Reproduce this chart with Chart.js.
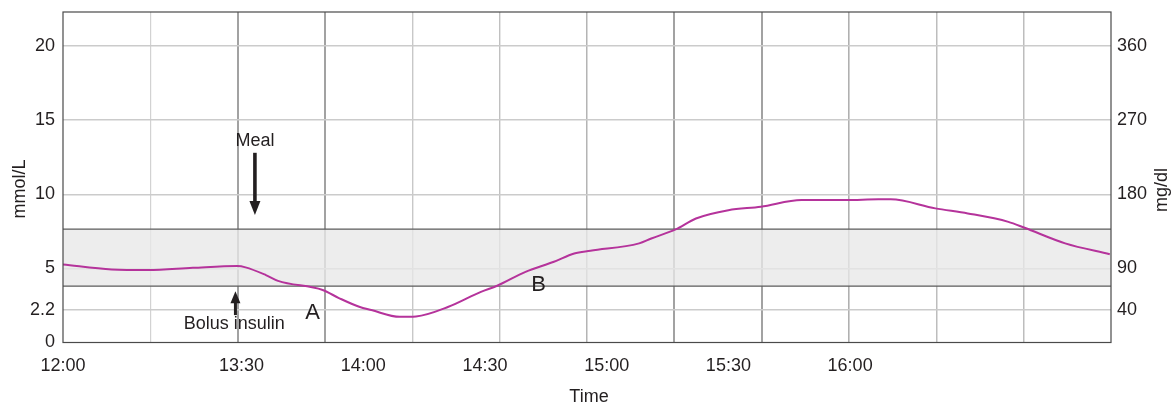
<!DOCTYPE html>
<html>
<head>
<meta charset="utf-8">
<script src="https://cdn.jsdelivr.net/npm/chart.js@4.4.1/dist/chart.umd.min.js"></script>
<style>
  html, body { margin: 0; padding: 0; background: #ffffff; }
  #wrap { width: 1175px; height: 408px; position: relative; }
</style>
</head>
<body>
<div id="wrap"><canvas id="c"></canvas></div>
<script>
// ---- data ----
// minutes after 12:00, glucose in mmol/L
const minutes = [46, 58, 67, 78, 89, 91, 96, 99, 110, 114, 119, 122, 129, 133, 141, 149, 153, 160, 167, 172, 176, 188, 191, 197, 202, 210, 218, 228, 239, 247, 250, 261, 269, 279, 283, 293, 304];
const glucose = [5.26, 4.93, 4.89, 5.04, 5.16, 5.07, 4.55, 4.16, 3.54, 3.0, 2.41, 2.19, 1.73, 1.76, 2.41, 3.42, 3.83, 4.77, 5.45, 6.01, 6.19, 6.69, 7.02, 7.63, 8.37, 8.93, 9.16, 9.61, 9.61, 9.66, 9.66, 9.05, 8.71, 8.14, 7.74, 6.69, 5.96];

const xMin = 46, xMax = 304.3;           // minutes shown on the time axis
const timeLabels = ['12:00', '13:30', '14:00', '14:30', '15:00', '15:30', '16:00'];
const timeLabelMinutes = [46, 90, 120, 150, 180, 210, 240]; // the source puts "12:00" at the axis start
const verticalGridCount = 12;

const mmolMax = 22.3;
const mmolTicks = [0, 2.2, 5, 10, 15, 20];
const mgdlTicks = [40, 90, 180, 270, 360];
const mgPerMmol = 18;

const targetLow = 3.8, targetHigh = 7.65; // shaded target range (mmol/L)

// annotations: [text, minute, mmol, font size]
const labelNotes = [
  ['Meal', 93.3, 13.59, 18],
  ['Bolus insulin', 88.2, 1.24, 18],
  ['A', 107.5, 1.98, 22],
  ['B', 163.2, 3.87, 22]
];
// arrows: [minute, fromMmol, toMmol(tip), shaft width, head width, head length]
const arrows = [
  [93.3, 12.8, 8.6, 3.6, 11, 14],
  [88.5, 1.85, 3.45, 3, 10, 12]
];

// ---- styles ----
const textColor = '#231f20';
const fontFamily = '"Liberation Sans", Arial, Helvetica, sans-serif';
const vGridStyles = [
  null,
  ['#d2d2d2', 1.2], ['#a2a2a2', 2], ['#a2a2a2', 2], ['#c8c8c8', 1.4], ['#c0c0c0', 1.4],
  ['#b4b4b4', 1.5], ['#a2a2a2', 2], ['#a2a2a2', 2], ['#b0b0b0', 1.6], ['#bdbdbd', 1.5], ['#bdbdbd', 1.5],
  null
];

const overlay = {
  id: 'overlay',
  beforeDatasetsDraw(chart) {
    const { ctx, chartArea: a, scales } = chart;
    const y = scales.y;
    const yTop = y.getPixelForValue(targetHigh), yBot = y.getPixelForValue(targetLow);
    ctx.save();
    ctx.fillStyle = 'rgba(232,232,232,0.78)';
    ctx.fillRect(a.left, yTop, a.right - a.left, yBot - yTop);
    ctx.strokeStyle = '#5c5c5c';
    ctx.lineWidth = 1.3;
    ctx.beginPath();
    ctx.moveTo(a.left, yTop); ctx.lineTo(a.right, yTop);
    ctx.moveTo(a.left, yBot); ctx.lineTo(a.right, yBot);
    ctx.stroke();
    ctx.restore();
  },
  afterDatasetsDraw(chart) {
    const { ctx, chartArea: a, scales } = chart;
    const x = scales.x, y = scales.y;
    ctx.save();
    // plot border
    ctx.strokeStyle = '#4a4a4a';
    ctx.lineWidth = 1.2;
    ctx.strokeRect(a.left, a.top, a.right - a.left, a.bottom - a.top);

    // arrows
    ctx.fillStyle = textColor;
    ctx.strokeStyle = textColor;
    arrows.forEach(([m, from, to, sw, hw, hl]) => {
      const px = x.getPixelForValue(m);
      const y0 = y.getPixelForValue(from), y1 = y.getPixelForValue(to);
      const dir = y1 > y0 ? 1 : -1;
      ctx.lineWidth = sw;
      ctx.beginPath();
      ctx.moveTo(px, y0);
      ctx.lineTo(px, y1 - dir * hl * 0.8);
      ctx.stroke();
      ctx.beginPath();
      ctx.moveTo(px, y1);
      ctx.lineTo(px - hw / 2, y1 - dir * hl);
      ctx.lineTo(px + hw / 2, y1 - dir * hl);
      ctx.closePath();
      ctx.fill();
    });

    // text notes
    ctx.textAlign = 'center';
    ctx.textBaseline = 'middle';
    labelNotes.forEach(([t, m, v, size]) => {
      ctx.font = size + 'px ' + fontFamily;
      ctx.fillText(t, x.getPixelForValue(m), y.getPixelForValue(v));
    });

    // axis titles
    ctx.font = '18px ' + fontFamily;
    ctx.fillText('Time', (a.left + a.right) / 2 + 2, 397);
    ctx.save();
    ctx.translate(20, 189);
    ctx.rotate(-Math.PI / 2);
    ctx.fillText('mmol/L', 0, 0);
    ctx.restore();
    ctx.save();
    ctx.translate(1162, 190);
    ctx.rotate(-Math.PI / 2);
    ctx.fillText('mg/dl', 0, 0);
    ctx.restore();
    ctx.restore();
  }
};

const tickFont = { family: fontFamily, size: 18 };

new Chart(document.getElementById('c'), {
  type: 'line',
  data: {
    datasets: [{
      data: minutes.map((m, i) => ({ x: m, y: glucose[i] })),
      borderColor: '#b5339b',
      borderWidth: 2,
      pointRadius: 0,
      cubicInterpolationMode: 'monotone',
      fill: false,
      xAxisID: 'x',
      yAxisID: 'y'
    }]
  },
  options: {
    responsive: true,
    maintainAspectRatio: false,
    animation: false,
    layout: { padding: { top: 12, left: 0, right: 0, bottom: 0 } },
    plugins: { legend: { display: false }, tooltip: { enabled: false } },
    scales: {
      xg: {
        type: 'linear', position: 'bottom', min: xMin, max: xMax,
        afterBuildTicks(s) {
          s.ticks = [];
          for (let i = 0; i <= verticalGridCount; i++) s.ticks.push({ value: xMin + (xMax - xMin) * i / verticalGridCount });
        },
        afterFit(s) { s.height = 0; s.paddingLeft = 0; s.paddingRight = 0; },
        ticks: { display: false },
        border: { display: false },
        grid: {
          drawTicks: false,
          color: c => (vGridStyles[c.index] ? vGridStyles[c.index][0] : 'rgba(0,0,0,0)'),
          lineWidth: c => (vGridStyles[c.index] ? vGridStyles[c.index][1] : 0)
        }
      },
      x: {
        type: 'linear', position: 'bottom', min: xMin, max: xMax,
        afterBuildTicks(s) { s.ticks = timeLabelMinutes.map(v => ({ value: v })); },
        afterFit(s) { s.height = 65.5; s.paddingLeft = 0; s.paddingRight = 0; },
        ticks: {
          font: tickFont, color: textColor, padding: 13, maxRotation: 0, autoSkip: false,
          callback: (v, i) => timeLabels[i]
        },
        border: { display: false },
        grid: { display: false, drawTicks: false }
      },
      y: {
        type: 'linear', position: 'left', min: 0, max: mmolMax,
        afterBuildTicks(s) { s.ticks = mmolTicks.map(v => ({ value: v })); },
        afterFit(s) { s.width = 63; s.paddingTop = 0; s.paddingBottom = 0; },
        ticks: { font: tickFont, color: textColor, padding: 8, callback: v => String(v) },
        border: { display: false },
        grid: {
          drawTicks: false,
          color: c => (c.tick && c.tick.value === 0 ? 'rgba(0,0,0,0)' : '#cbcbcb'),
          lineWidth: 1.5
        }
      },
      y2: {
        type: 'linear', position: 'right', min: 0, max: mmolMax * mgPerMmol,
        afterBuildTicks(s) { s.ticks = mgdlTicks.map(v => ({ value: v })); },
        afterFit(s) { s.width = 64; s.paddingTop = 0; s.paddingBottom = 0; },
        ticks: { font: tickFont, color: textColor, padding: 6, callback: v => String(v) },
        border: { display: false },
        grid: { display: false, drawTicks: false }
      }
    }
  },
  plugins: [overlay]
});
</script>
</body>
</html>
